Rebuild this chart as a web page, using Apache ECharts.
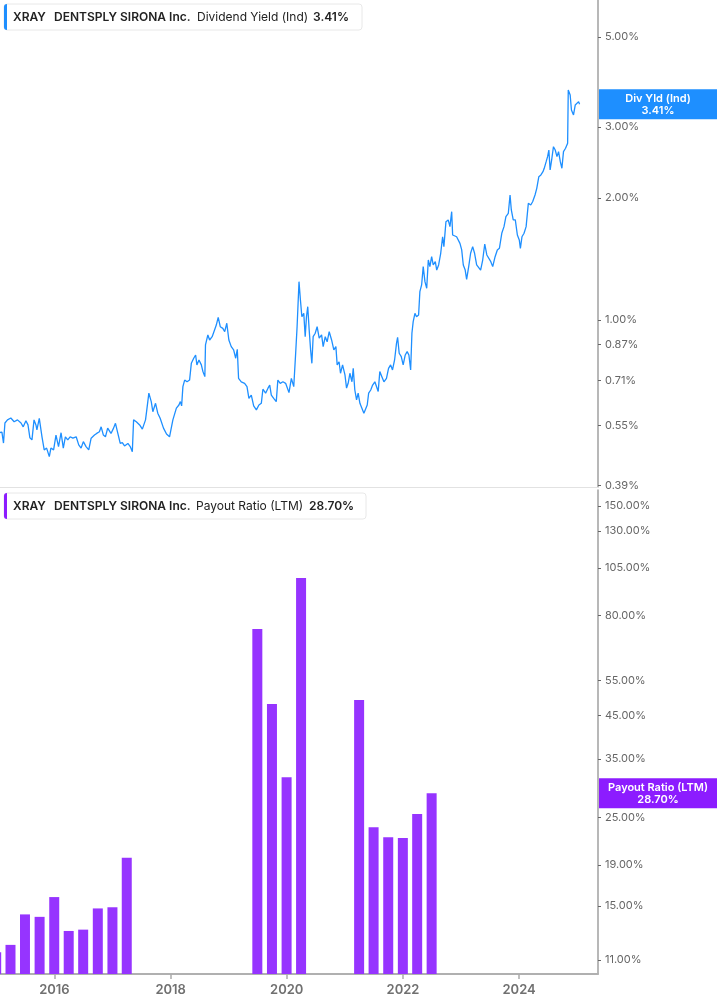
<!DOCTYPE html>
<html>
<head>
<meta charset="utf-8">
<title>XRAY Dividend Yield / Payout Ratio</title>
<script src="https://cdn.jsdelivr.net/npm/echarts@6/dist/echarts.min.js"></script>
<style>
  html, body { margin: 0; padding: 0; background: #fff; }
  #chart { width: 717px; height: 1005px; }
</style>
</head>
<body>
<div id="chart"></div>
<script>
// Dividend Yield (Ind), %
const yieldDates = [
  '2015-01-19','2015-02-05','2015-02-15','2015-02-24','2015-03-12','2015-04-02','2015-04-23','2015-05-14','2015-06-05','2015-06-19',
  '2015-07-06','2015-07-19','2015-07-31','2015-08-13','2015-08-26','2015-09-07','2015-09-13','2015-09-28','2015-10-15','2015-10-29',
  '2015-11-13','2015-11-30','2015-12-10','2015-12-27','2016-01-11','2016-01-27','2016-02-12','2016-02-26','2016-03-10','2016-03-25',
  '2016-04-09','2016-04-26','2016-05-17','2016-06-02','2016-06-17','2016-07-01','2016-07-18','2016-08-04','2016-08-19','2016-09-09',
  '2016-09-23','2016-10-10','2016-10-21','2016-11-04','2016-11-17','2016-12-01','2016-12-22','2017-01-07','2017-01-19','2017-02-03',
  '2017-02-18','2017-03-03','2017-03-17','2017-04-07','2017-04-22','2017-05-05','2017-05-13','2017-05-30','2017-06-20','2017-07-07',
  '2017-07-27','2017-08-04','2017-08-17','2017-09-01','2017-09-11','2017-09-28','2017-10-12','2017-10-27','2017-11-17','2017-12-06',
  '2017-12-25','2018-01-15','2018-02-06','2018-02-22','2018-03-03','2018-03-11','2018-03-19','2018-03-30','2018-04-14','2018-04-30',
  '2018-05-11','2018-05-26','2018-06-07','2018-06-15','2018-06-28','2018-07-13','2018-07-23','2018-08-04','2018-08-08','2018-08-23',
  '2018-09-03','2018-09-19','2018-10-04','2018-10-15','2018-10-27','2018-11-09','2018-11-25','2018-12-07','2018-12-20','2019-01-02',
  '2019-01-17','2019-02-01','2019-02-14','2019-02-24','2019-03-04','2019-03-21','2019-04-11','2019-04-26','2019-05-08','2019-05-23',
  '2019-06-07','2019-06-24','2019-07-10','2019-07-25','2019-08-04','2019-08-21','2019-09-05','2019-09-16','2019-09-26','2019-10-11',
  '2019-10-27','2019-11-06','2019-11-21','2019-12-08','2019-12-25','2020-01-15','2020-01-30','2020-02-14','2020-02-26','2020-03-06',
  '2020-03-18','2020-03-27','2020-04-05','2020-04-17','2020-04-26','2020-05-04','2020-05-12','2020-05-21','2020-05-30','2020-06-07',
  '2020-06-15','2020-06-28','2020-07-10','2020-07-23','2020-08-07','2020-08-17','2020-08-30','2020-09-11','2020-09-24','2020-10-09',
  '2020-10-23','2020-11-05','2020-11-13','2020-11-25','2020-12-04','2020-12-17','2021-01-01','2021-01-11','2021-01-21','2021-02-01',
  '2021-02-14','2021-02-22','2021-03-04','2021-03-15','2021-03-25','2021-04-05','2021-04-17','2021-04-30','2021-05-12','2021-05-21',
  '2021-05-30','2021-06-12','2021-06-24','2021-07-08','2021-07-19','2021-07-29','2021-08-08','2021-08-21','2021-09-03','2021-09-19',
  '2021-10-02','2021-10-15','2021-10-27','2021-11-09','2021-11-21','2021-11-28','2021-12-08','2021-12-21','2022-01-02','2022-01-15',
  '2022-01-27','2022-02-07','2022-02-18','2022-02-26','2022-03-06','2022-03-17','2022-03-27','2022-04-09','2022-04-17','2022-04-28',
  '2022-05-08','2022-05-19','2022-05-30','2022-06-09','2022-06-19','2022-06-30','2022-07-10','2022-07-23','2022-08-01','2022-08-13',
  '2022-08-26','2022-09-07','2022-09-15','2022-09-28','2022-10-12','2022-10-23','2022-11-03','2022-11-09','2022-11-21','2022-12-04',
  '2022-12-14','2022-12-25','2023-01-05','2023-01-15','2023-01-27','2023-02-05','2023-02-18','2023-03-02','2023-03-15','2023-03-27',
  '2023-04-09','2023-04-21','2023-05-04','2023-05-17','2023-05-30','2023-06-12','2023-06-24','2023-07-07','2023-07-19','2023-08-03',
  '2023-08-17','2023-08-30','2023-09-14','2023-09-28','2023-10-10','2023-10-25','2023-11-05','2023-11-13','2023-11-25','2023-12-08',
  '2023-12-21','2024-01-02','2024-01-09','2024-01-19','2024-02-01','2024-02-14','2024-02-22','2024-02-28','2024-03-14','2024-03-26',
  '2024-04-10','2024-04-21','2024-05-04','2024-05-17','2024-05-30','2024-06-07','2024-06-19','2024-06-28','2024-07-06','2024-07-14',
  '2024-07-25','2024-08-04','2024-08-15','2024-08-26','2024-09-05','2024-09-16','2024-09-26','2024-10-06','2024-10-19','2024-11-01',
  '2024-11-05','2024-11-17','2024-11-25','2024-12-08','2024-12-19','2024-12-30','2025-01-09','2025-01-15'
];
const yieldValues = [
  0.527,0.529,0.497,0.557,0.567,0.573,0.561,0.567,0.557,0.545,
  0.564,0.551,0.512,0.506,0.567,0.551,0.536,0.572,0.515,0.478,
  0.483,0.460,0.483,0.478,0.520,0.487,0.527,0.483,0.515,0.506,
  0.515,0.511,0.515,0.492,0.483,0.501,0.487,0.478,0.511,0.520,
  0.525,0.530,0.545,0.520,0.515,0.541,0.525,0.541,0.556,0.525,
  0.496,0.498,0.489,0.496,0.487,0.473,0.567,0.561,0.551,0.538,
  0.567,0.600,0.660,0.629,0.594,0.623,0.589,0.572,0.541,0.523,
  0.515,0.567,0.606,0.617,0.629,0.614,0.685,0.711,0.704,0.711,
  0.782,0.805,0.820,0.775,0.797,0.775,0.746,0.725,0.868,0.919,
  0.893,0.910,0.945,0.972,1.016,0.963,0.954,0.936,0.982,0.893,
  0.860,0.844,0.805,0.847,0.718,0.704,0.698,0.685,0.641,0.653,
  0.614,0.600,0.617,0.623,0.675,0.660,0.679,0.691,0.653,0.641,
  0.629,0.711,0.698,0.704,0.698,0.662,0.718,0.685,0.828,0.963,
  1.244,1.121,1.019,1.039,0.910,1.019,1.079,0.945,0.844,0.782,
  0.910,0.928,0.963,0.902,0.919,0.860,0.910,0.884,0.936,0.893,
  0.844,0.860,0.775,0.789,0.739,0.775,0.732,0.679,0.698,0.739,
  0.704,0.760,0.672,0.635,0.660,0.623,0.621,0.589,0.583,0.617,
  0.660,0.672,0.691,0.704,0.711,0.666,0.746,0.725,0.704,0.718,
  0.760,0.775,0.753,0.797,0.876,0.907,0.828,0.812,0.775,0.820,
  0.836,0.820,0.753,0.928,0.991,1.039,1.019,1.029,1.175,1.221,
  1.355,1.244,1.198,1.407,1.355,1.434,1.368,1.394,1.329,1.368,
  1.462,1.606,1.518,1.750,1.767,1.701,1.852,1.622,1.638,1.606,
  1.622,1.547,1.490,1.368,1.329,1.261,1.355,1.462,1.518,1.462,
  1.368,1.355,1.329,1.407,1.541,1.448,1.434,1.394,1.355,1.434,
  1.490,1.504,1.638,1.701,1.800,1.835,2.036,1.870,1.767,1.767,
  1.622,1.577,1.504,1.606,1.638,1.701,1.686,1.942,1.924,1.960,
  2.036,2.115,2.260,2.282,2.325,2.370,2.461,2.532,2.630,2.347,
  2.509,2.680,2.630,2.532,2.605,2.461,2.370,2.605,2.656,2.732,
  3.699,3.596,3.302,3.210,3.397,3.430,3.462,3.410
];

// Payout Ratio (LTM), %, quarterly
const payoutDates = [
  '2014-12-31','2015-03-31','2015-06-30','2015-09-30','2015-12-31',
  '2016-03-31','2016-06-30','2016-09-30','2016-12-31','2017-03-31',
  '2019-06-30','2019-09-30','2019-12-31','2020-03-31',
  '2021-03-31','2021-06-30','2021-09-30','2021-12-31','2022-03-31','2022-06-30'
];
const payoutValues = [
  11.5, 12.0, 14.3, 14.1, 15.8,
  13.0, 13.1, 14.8, 14.9, 19.8,
  73.9, 48.0, 31.5, 99.1,
  49.1, 23.6, 22.3, 22.2, 25.5, 28.7
];

const yieldTicks = [0.39, 0.55, 0.71, 0.87, 1, 2, 3, 5];
const payoutTicks = [11, 15, 19, 25, 35, 45, 55, 80, 105, 130, 150];
const yearTicks = ['2016-01-01', '2018-01-01', '2020-01-01', '2022-01-01', '2024-01-01'];

const lastYield = 3.41;
const lastPayout = 28.70;

const BLUE = '#1e8fff';
const PURPLE = '#9634ff';
const FONT = 'Inter, "Noto Sans", sans-serif';

const chart = echarts.init(document.getElementById('chart'));

const lg = Math.log10;
const ts = d => Date.parse(d);
const pct = v => Math.pow(10, v).toFixed(2) + '%';
const xMin = ts('2015-01-24');
const xMax = ts('2025-05-11');

function yAxisFor(gridIndex, ticks, min, max) {
  const vals = ticks.map(lg);
  return {
    type: 'value',
    gridIndex: gridIndex,
    position: 'right',
    min: min,
    max: max,
    splitLine: { show: false },
    axisLine: { show: true, lineStyle: { color: '#a0a0a0', width: 1.5 } },
    axisTick: { show: true, customValues: vals, length: 3, lineStyle: { color: '#666' } },
    axisLabel: {
      customValues: vals,
      formatter: pct,
      color: '#666',
      fontSize: 11,
      fontFamily: FONT,
      margin: 7
    }
  };
}

const option = {
  animation: false,
  grid: [
    { left: 0, right: 119, top: 0, height: 487 },
    { left: 0, right: 119, top: 490, height: 484 }
  ],
  xAxis: [
    {
      type: 'value',
      gridIndex: 0,
      min: xMin,
      max: xMax,
      axisLine: { show: true, onZero: false, lineStyle: { color: '#e2e2e2', width: 1 } },
      axisTick: { show: false },
      axisLabel: { show: false },
      splitLine: { show: false }
    },
    {
      type: 'value',
      gridIndex: 1,
      min: xMin,
      max: xMax,
      axisLine: { show: true, onZero: false, lineStyle: { color: '#b0b0b0', width: 2 } },
      axisTick: { show: true, customValues: yearTicks.map(ts), length: 5, lineStyle: { color: '#aaa', width: 1.5 } },
      axisLabel: {
        customValues: yearTicks.map(ts),
        formatter: v => String(new Date(v).getUTCFullYear()),
        color: '#707070',
        fontSize: 13,
        fontWeight: 600,
        fontFamily: FONT,
        margin: 10
      },
      splitLine: { show: false }
    }
  ],
  yAxis: [
    yAxisFor(0, yieldTicks, -0.41217, 0.79033),
    yAxisFor(1, payoutTicks, 1.00639, 2.21609)
  ],
  series: [
    {
      name: 'Dividend Yield (Ind)',
      type: 'line',
      xAxisIndex: 0,
      yAxisIndex: 0,
      showSymbol: false,
      data: yieldDates.map((d, i) => [ts(d), lg(yieldValues[i])]),
      lineStyle: { color: BLUE, width: 1.3 },
      itemStyle: { color: BLUE }
    },
    {
      name: 'Payout Ratio (LTM)',
      type: 'bar',
      xAxisIndex: 1,
      yAxisIndex: 1,
      clip: true,
      barWidth: 10,
      data: payoutDates.map((d, i) => [ts(d), lg(payoutValues[i])]),
      itemStyle: { color: PURPLE }
    }
  ]
};

chart.setOption(option);

// legend boxes and last-value tags
function legendBox(top, width, color, xs, metric, value) {
  const txt = (x, s, bold) => ({
    type: 'text', x: x, y: 13,
    style: {
      text: s, fill: '#222', verticalAlign: 'middle',
      font: (bold ? '600 ' : '400 ') + '12px ' + FONT
    }
  });
  return {
    type: 'group', x: 4, y: top,
    children: [
      { type: 'rect', shape: { x: 0, y: 0, width: width, height: 26, r: 3 }, style: { fill: '#fff', stroke: '#e8e8e8', lineWidth: 1 } },
      { type: 'rect', shape: { x: 0, y: 0, width: 3, height: 26, r: [3, 0, 0, 3] }, style: { fill: color } },
      txt(xs[0], 'XRAY', true),
      txt(xs[1], 'DENTSPLY SIRONA Inc.', true),
      txt(xs[2], metric, false),
      txt(xs[3], value, true)
    ]
  };
}

function valueTag(yAxisIndex, v, color, title) {
  const y = chart.convertToPixel({ yAxisIndex: yAxisIndex }, lg(v));
  return {
    type: 'group', x: 599, y: y - 15,
    children: [
      { type: 'rect', shape: { x: 0, y: 0, width: 118, height: 30 }, style: { fill: color } },
      {
        type: 'text', x: 59, y: 15,
        style: {
          text: title + '\n' + v.toFixed(2) + '%',
          fill: '#fff', align: 'center', verticalAlign: 'middle',
          font: '600 11px ' + FONT, lineHeight: 12
        }
      }
    ]
  };
}

chart.setOption({
  graphic: [
    legendBox(4, 358, BLUE, [9, 50, 193, 309], 'Dividend Yield (Ind)', lastYield.toFixed(2) + '%'),
    legendBox(493, 362, '#8c1cff', [9, 50, 192, 305], 'Payout Ratio (LTM)', lastPayout.toFixed(2) + '%'),
    valueTag(0, lastYield, BLUE, 'Div Yld (Ind)'),
    valueTag(1, lastPayout, '#8c1cff', 'Payout Ratio (LTM)')
  ]
});
</script>
</body>
</html>
